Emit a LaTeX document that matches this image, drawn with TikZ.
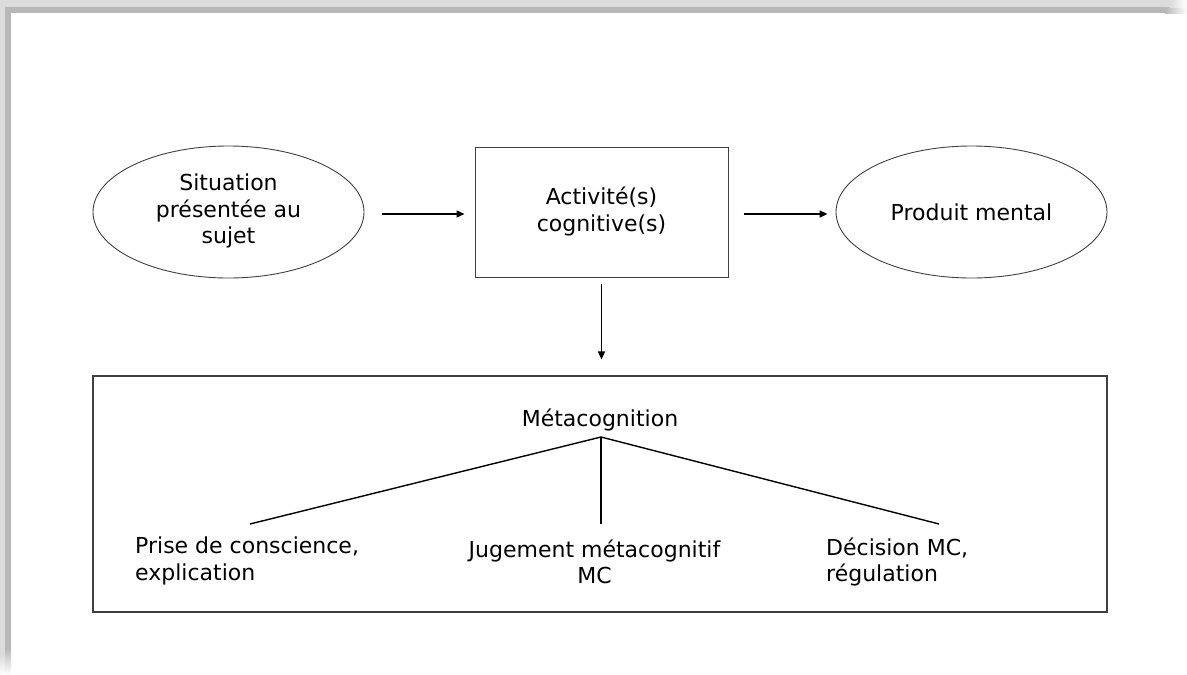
\documentclass[tikz,border=0pt]{standalone}
\usepackage{fontspec}
\setmainfont{DejaVu Sans}
\usetikzlibrary{shapes.geometric,arrows.meta}
\definecolor{shlight}{HTML}{DCDCDC}
\definecolor{shdark}{HTML}{B8B8B8}
\definecolor{edge}{HTML}{404040}
\tikzset{
  lbl/.style={font=\fontsize{22}{26.5}\selectfont, align=center, inner sep=2pt},
  ell/.style={ellipse, draw=edge, line width=0.9pt, minimum width=271, minimum height=132, inner sep=0pt, lbl},
  boxnode/.style={rectangle, draw=edge, line width=1pt, minimum width=253, minimum height=130, inner sep=0pt, lbl},
  frame/.style={rectangle, draw=edge, line width=1.1pt, minimum width=1014, minimum height=236, inner sep=0pt},
  arr/.style={line width=1.4pt, -{Triangle[length=8pt,width=7pt]}},
  branch/.style={line width=1.4pt}
}
\begin{document}
\begin{tikzpicture}[x=1pt,y=-1pt]
\useasboundingbox (0,0) rectangle (1187,675);
\fill[white] (0,0) rectangle (1187,675);
% shadow of the frame
\fill[shlight] (0,0) rectangle (1170,7);
\fill[shlight] (0,0) rectangle (5,655);
\fill[shdark] (5,7) rectangle (1165,13);
\fill[shdark] (5,7) rectangle (11,648);
\shade[left color=shdark, right color=white] (1165,7) rectangle (1187,13);
\shade[left color=shlight, right color=white] (1170,0) rectangle (1187,7);
\shade[top color=shdark, bottom color=white] (5,648) rectangle (11,675);
\shade[top color=shlight, bottom color=white] (0,655) rectangle (5,675);

% top row
\node[ell, text depth=6pt] (sit) at (228.5,212) {Situation\\présentée au\\sujet};
\node[boxnode, text depth=6pt] (act) at (601.5,212) {Activité(s)\\cognitive(s)};
\node[ell] (prod) at (971.5,212) {Produit mental};

\draw[arr] ([xshift=18pt,yshift=-2pt]sit.east) -- ([xshift=-10pt,yshift=-2pt]act.west);
\draw[arr] ([xshift=15pt,yshift=-2pt]act.east) -- ([xshift=-8pt,yshift=-2pt]prod.west);

% bottom frame
\node[frame] (meta) at (600,494) {};
\draw[arr] ([yshift=-6pt]act.south) -- ([yshift=16pt]meta.north -| act.south);

\node[lbl] (mc) at (600,420) {Métacognition};
\coordinate (apex) at (601,437);
\coordinate (e1) at (250,524);
\coordinate (e2) at (601,524);
\coordinate (e3) at (939,524);
\draw[branch] (e1) -- (apex) -- (e3);
\draw[branch] (apex) -- (e2);

\node[lbl, align=left, anchor=west] (pc) at (133,561) {Prise de conscience,\\explication};
\node[lbl] (jm) at (594.5,562) {Jugement métacognitif\\MC};
\node[lbl, align=left, anchor=west] (dm) at (824,562) {Décision MC,\\régulation};
\end{tikzpicture}
\end{document}
